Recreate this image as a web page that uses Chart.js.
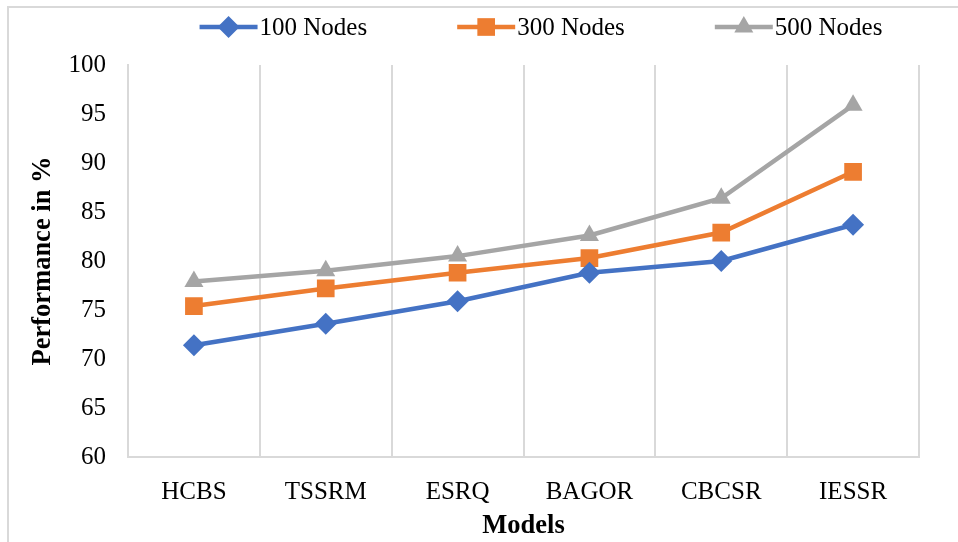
<!DOCTYPE html>
<html>
<head>
<meta charset="utf-8">
<script src="https://cdn.jsdelivr.net/npm/chart.js@4.4.1/dist/chart.umd.min.js"></script>
<style>
  html, body { margin: 0; padding: 0; background: #fff; }
  #wrap { position: relative; width: 958px; height: 542px; overflow: hidden; }
  #frame { position: absolute; left: 7px; top: 6px; width: 1000px; height: 600px;
           border-left: 2px solid #d9d9d9; border-top: 2px solid #d9d9d9; }
  canvas { position: absolute; left: 0; top: 0; }
</style>
</head>
<body>
<div id="wrap">
  <div id="frame"></div>
  <canvas id="myChart" width="958" height="542"></canvas>
</div>
<script>
// categories and series
const models = ["HCBS", "TSSRM", "ESRQ", "BAGOR", "CBCSR", "IESSR"];
const nodes100 = [71.4, 73.6, 75.9, 78.8, 80.0, 83.7];
const nodes300 = [75.4, 77.2, 78.8, 80.3, 82.9, 89.1];
const nodes500 = [77.9, 79.0, 80.5, 82.6, 86.4, 95.9];
const yTicks = [60, 65, 70, 75, 80, 85, 90, 95, 100];

const serif = "'Liberation Serif', 'Times New Roman', serif";

// legend drawn like Excel: short line with marker in the middle
const lineLegend = {
  id: "lineLegend",
  afterDraw(chart) {
    const ctx = chart.ctx;
    const y = 27;
    const lineW = 58;
    const gap = 2;
    const between = 90;
    ctx.save();
    ctx.font = "25px " + serif;
    const items = chart.data.datasets.map(ds => ({ ds, w: ctx.measureText(ds.label).width }));
    let total = 0;
    items.forEach((it, i) => { total += lineW + gap + it.w + (i ? between : 0); });
    let x = 541 - total / 2;
    items.forEach(it => {
      const ds = it.ds;
      ctx.strokeStyle = ds.borderColor;
      ctx.lineWidth = 4.5;
      ctx.beginPath();
      ctx.moveTo(x, y);
      ctx.lineTo(x + lineW, y);
      ctx.stroke();
      ctx.fillStyle = ds.backgroundColor;
      Chart.helpers.drawPoint(ctx, { pointStyle: ds.pointStyle, radius: ds.pointRadius, borderWidth: 0 }, x + lineW / 2, y);
      ctx.fillStyle = "#000";
      ctx.textBaseline = "middle";
      ctx.textAlign = "left";
      ctx.fillText(ds.label, x + lineW + gap, y + 1);
      x += lineW + gap + it.w + between;
    });
    ctx.restore();
  }
};

const data = {
  labels: models,
  datasets: [{
    label: "100 Nodes",
    data: nodes100,
    borderColor: "#4472C4",
    backgroundColor: "#4472C4",
    borderWidth: 4.5,
    pointStyle: "rectRot",
    pointRadius: 11,
    pointBorderWidth: 0,
    tension: 0
  }, {
    label: "300 Nodes",
    data: nodes300,
    borderColor: "#ED7D31",
    backgroundColor: "#ED7D31",
    borderWidth: 4.5,
    pointStyle: "rect",
    pointRadius: 12.5,
    pointBorderWidth: 0,
    tension: 0
  }, {
    label: "500 Nodes",
    data: nodes500,
    borderColor: "#A5A5A5",
    backgroundColor: "#A5A5A5",
    borderWidth: 4.5,
    pointStyle: "triangle",
    pointRadius: 11,
    pointBorderWidth: 0,
    tension: 0
  }]
};

const config = {
  type: "line",
  data: data,
  plugins: [lineLegend],
  options: {
    responsive: false,
    animation: false,
    layout: { padding: { top: 65, right: 39, left: 0, bottom: 0 } },
    plugins: {
      legend: { display: false },
      tooltip: { enabled: false }
    },
    scales: {
      x: {
        offset: true,
        grid: { offset: true, color: "#d9d9d9", lineWidth: 2, drawTicks: false },
        border: { color: "#d9d9d9", width: 2 },
        ticks: { color: "#000", font: { family: serif, size: 25 }, padding: 20, maxRotation: 0 },
        title: { display: true, text: "Models", color: "#000", font: { family: serif, size: 26.5, weight: "bold" }, padding: { top: 0, bottom: 0 } },
        afterFit: scale => { scale.height = 85; }
      },
      y: {
        min: 60,
        max: 100,
        afterBuildTicks: scale => { scale.ticks = yTicks.map(v => ({ value: v })); },
        grid: { display: false, drawTicks: false },
        border: { color: "#d9d9d9", width: 2 },
        ticks: { color: "#000", font: { family: serif, size: 25 }, padding: 22 },
        title: { display: true, text: "Performance in %", color: "#000", font: { family: serif, size: 26.5, weight: "bold" }, padding: { top: 27, bottom: 0 } },
        afterFit: scale => { scale.width = 128; }
      }
    }
  }
};

const ctx = document.querySelector("#myChart");
const myChart = new Chart(ctx, config);
</script>
</body>
</html>
